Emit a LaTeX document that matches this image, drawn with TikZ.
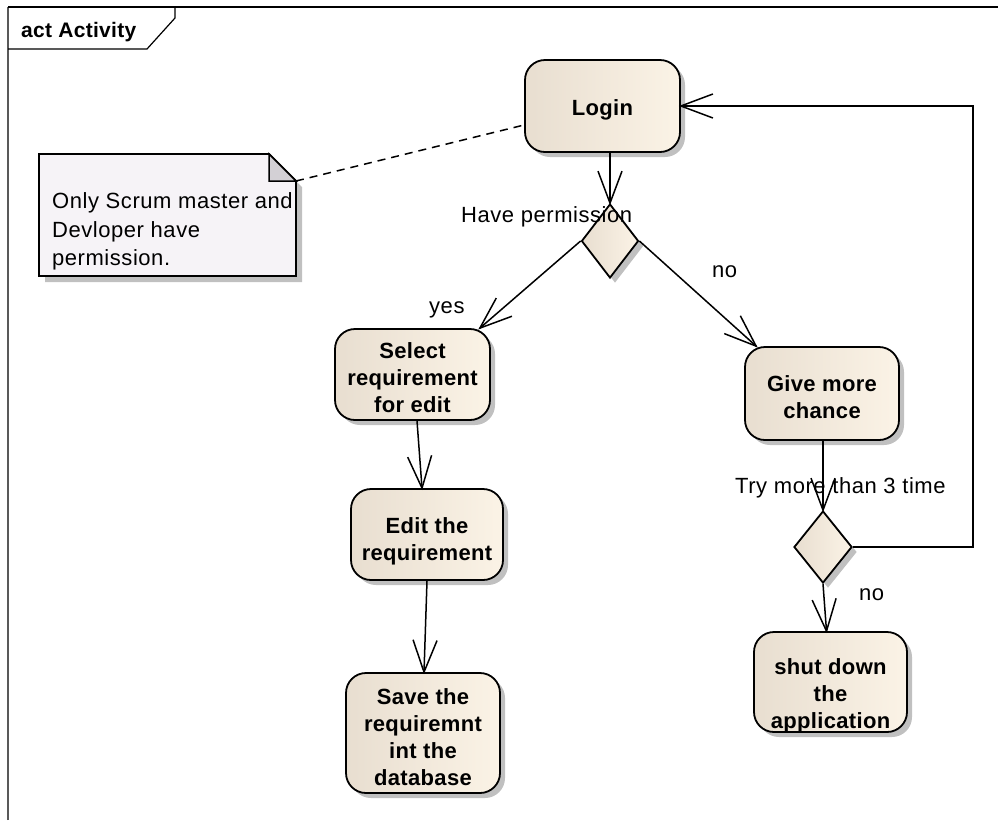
\documentclass[tikz,border=0pt]{standalone}
\usepackage{fontspec}
\setmainfont{Liberation Sans}[LetterSpace=2.5, BoldFeatures={LetterSpace=1.5}]
\usetikzlibrary{shapes.geometric,shadows,arrows.meta,calc}

% open "V" arrow head made of two straight strokes
\pgfdeclarearrow{
  name = OpenVee,
  parameters = {\the\pgfarrowlength,\the\pgfarrowwidth},
  setup code = {
    \pgfarrowssettipend{0pt}
    \pgfarrowssetlineend{0pt}
    \pgfarrowsupperhullpoint{-\pgfarrowlength}{.5\pgfarrowwidth}
    \pgfarrowshullpoint{0pt}{0pt}
    \pgfarrowssavethe\pgfarrowlength
    \pgfarrowssavethe\pgfarrowwidth
  },
  drawing code = {
    \pgfpathmoveto{\pgfqpoint{-\pgfarrowlength}{.5\pgfarrowwidth}}
    \pgfpathlineto{\pgfqpoint{0pt}{0pt}}
    \pgfpathlineto{\pgfqpoint{-\pgfarrowlength}{-.5\pgfarrowwidth}}
    \pgfusepathqstroke
  },
  defaults = {length=32pt, width=24pt}
}

\definecolor{actL}{RGB}{232,222,208}
\definecolor{actR}{RGB}{251,243,230}
\definecolor{shadegray}{RGB}{192,192,192}
\definecolor{notefill}{RGB}{246,243,247}
\definecolor{notefold}{RGB}{211,208,213}

\tikzset{
  boxshadow/.style={general shadow={fill=shadegray, shadow xshift=5pt, shadow yshift=-5pt}},
  act/.style={rectangle, rounded corners=20pt, draw=black, line width=1.8pt,
    left color=actL, right color=actR, boxshadow, inner sep=0pt},
  decision/.style={diamond, draw=black, line width=1.8pt,
    left color=actL, right color=actR, boxshadow, inner sep=0pt,
    minimum width=57pt, minimum height=74pt},
  acttext/.style={font=\fontsize{22}{27}\selectfont\bfseries, align=center, inner sep=0pt},
  plain/.style={font=\fontsize{22}{27}\selectfont, inner sep=0pt, anchor=base west},
  flow/.style={line width=1.5pt, -{OpenVee[length=32pt,width=24pt]}},
}

\begin{document}
\begin{tikzpicture}[x=1pt, y=-1pt]
\useasboundingbox (0,0) rectangle (998,820);
\fill[white] (0,0) rectangle (998,820);

% diagram frame and its name tag
\draw[black!65, line width=1.6pt] (8,820) -- (8,7);
\draw[line width=1.3pt] (8,7) -- (998,7);
\draw[line width=1.2pt] (175,7) -- (175,18) -- (147,49) -- (8,49);
\node[font=\fontsize{21}{24}\selectfont\bfseries, inner sep=0pt, anchor=base west] (frametag) at (21,37) {act Activity};

% comment note
\fill[shadegray] (45,160) -- (275,160) -- (302,187) -- (302,282) -- (45,282) -- cycle;
\draw[line width=1.8pt, fill=notefill] (39,154) -- (269,154) -- (296,181) -- (296,276) -- (39,276) -- cycle;
\draw[line width=1.5pt, fill=notefold] (269,154) -- (269,181) -- (296,181) -- cycle;
\coordinate (notecorner) at (296,181);
\node[plain] (note1) at (52,208) {Only Scrum master and};
\node[plain] (note2) at (52,237) {Devloper have};
\node[plain] (note3) at (52,265) {permission.};

% activities
\node[act, minimum width=155pt, minimum height=92pt] (login) at (602.5,106) {};
\node[acttext] (loginT) at (602.5,110) {Login};

\node[decision] (d1) at (610,241) {};

\node[act, minimum width=155pt, minimum height=91pt] (select) at (412.5,374.5) {};
\node[acttext] (selectT) at (412.5,378) {Select\\requirement\\for edit};

\node[act, minimum width=152pt, minimum height=91pt] (edit) at (427,534.5) {};
\node[acttext] (editT) at (427,541) {Edit the\\requirement};

\node[act, minimum width=154pt, minimum height=120pt] (save) at (423,733) {};
\node[acttext] (saveT) at (423,737) {Save the\\requiremnt\\int the\\database};

\node[act, minimum width=154pt, minimum height=93pt] (give) at (822,393.5) {};
\node[acttext] (giveT) at (822,397.5) {Give more\\chance};

\node[decision, minimum width=58pt, minimum height=72pt] (d2) at (823,547) {};

\node[act, minimum width=153pt, minimum height=100pt] (shut) at (830.5,682) {};
\node[acttext] (shutT) at (830.5,696) {shut down\\the\\application};

% flows
\draw[flow] (login.south -| d1.north) -- (d1.north);
\draw[flow] (d1.west) -- ([xshift=-11pt]select.north east);
\draw[flow] (d1.east) -- ([xshift=12pt]give.north west);
\draw[flow] ([xshift=4.5pt]select.south) -- ([xshift=-5pt]edit.north);
\draw[flow] (edit.south) -- ([xshift=1pt]save.north);
\draw[flow] (give.south -| d2.north) -- (d2.north);
\draw[flow] (d2.south) -- ([xshift=-4pt]shut.north);
\coordinate (loopturn) at (973,106);
\draw[flow] (d2.east) -| (loopturn) -- (login.east);

% note link
\draw[line width=1.5pt, dash pattern=on 8pt off 6pt] (notecorner) -- ([yshift=-19pt]login.west);

% guard and flow labels
\node[plain] (permT) at (461,222) {Have permission};
\node[plain] (yesT) at (429,313) {yes};
\node[plain] (noT) at (712,277) {no};
\node[plain] (tryT) at (735,493) {Try more than 3 time};
\node[plain] (no2T) at (859,600) {no};
\end{tikzpicture}
\end{document}
